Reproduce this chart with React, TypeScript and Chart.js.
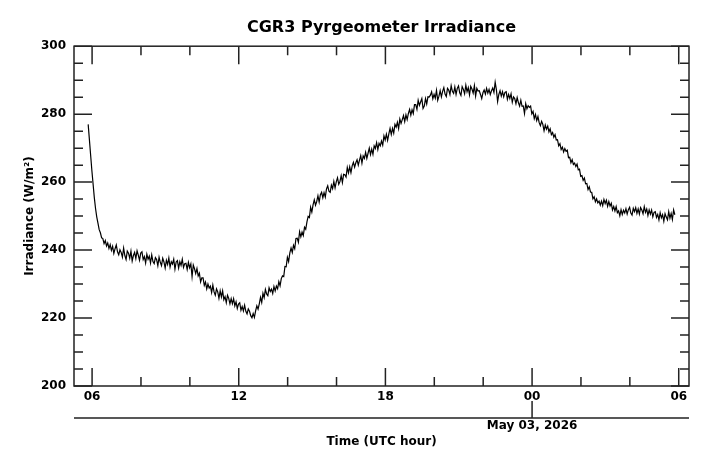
import React, { useEffect, useRef } from 'react';
import { Chart, registerables } from 'chart.js';

Chart.register(...registerables);

const chartTitle = 'CGR3 Pyrgeometer Irradiance';
const yAxisTitle = 'Irradiance (W/m²)';
const xAxisTitle = 'Time (UTC hour)';
const dateLabel = 'May 03, 2026';
const dateMarkHour = 24;

// hours counted from 00 UTC of May 02
const hourMin = 5.26;
const hourMax = 30.42;
const startHour = 5.84;
const stepHours = 0.05;

const xTickHours = [6, 12, 18, 24, 30];
const xMinorHours = [6, 8, 10, 12, 14, 16, 18, 20, 22, 24, 26, 28, 30];
const yTicks = [200, 220, 240, 260, 280, 300];
const yMinorTicks = [
  200, 205, 210, 215, 220, 225, 230, 235, 240, 245, 250,
  255, 260, 265, 270, 275, 280, 285, 290, 295, 300,
];

// W/m2, one reading every 3 minutes from startHour (one row per hour)
const irradiance = [
  277, 272.5, 268, 263.5, 259.5, 255.5, 252.3, 249.8, 247.9, 246.0, 245.1, 243.6, 243.4, 241.9, 242.8, 241.2, 242.1, 240.5, 241.6, 239.9,
  241.1, 239.0, 240.4, 241.5, 239.5, 238.6, 240.1, 239.3, 237.9, 240.6, 238.4, 237.2, 239.7, 239.1, 237.6, 239.7, 236.8, 238.4, 239.3, 237.5,
  239.8, 238.5, 237.0, 239.1, 239.5, 237.2, 238.1, 236.2, 238.8, 237.3, 238.2, 236.2, 238.6, 236.6, 236.0, 237.8, 237.2, 235.4, 237.9, 236.4,
  235.4, 237.6, 236.5, 234.7, 237.0, 235.8, 237.7, 235.0, 236.6, 235.9, 237.3, 234.4, 236.5, 236.9, 234.7, 236.6, 235.5, 237.3, 234.9, 236.0,
  236.1, 234.3, 236.4, 234.8, 235.9, 232.2, 235.6, 234.5, 233.1, 234.6, 232.4, 233.2, 230.6, 231.8, 231.8, 229.6, 230.6, 228.6, 230.0, 228.8,
  229.4, 227.5, 229.7, 227.7, 226.7, 228.6, 227.7, 225.8, 228.0, 226.2, 228.0, 225.4, 226.3, 224.5, 226.7, 225.8, 224.2, 225.7, 224.2, 225.7,
  223.6, 224.8, 222.8, 224.1, 224.5, 222.3, 223.4, 222.1, 223.8, 222.0, 221.2, 222.7, 222.0, 220.7, 220.1, 221.3, 220.2, 222.1, 223.6, 222.6,
  224.2, 226.1, 224.6, 227.3, 226.0, 228.4, 227.1, 226.6, 228.9, 227.8, 228.5, 227.2, 229.3, 228.0, 229.4, 228.6, 230.7, 229.5, 231.6, 232.4,
  232.2, 235.2, 235.1, 237.9, 236.6, 239.2, 240.6, 239.3, 241.4, 240.4, 243.4, 243.5, 242.3, 245.4, 243.9, 245.3, 244.3, 246.7, 246.1, 248.3,
  249.9, 249.6, 252.6, 251.2, 253.3, 254.8, 253.2, 254.3, 256.0, 254.1, 256.3, 257.0, 255.4, 256.9, 255.6, 258.0, 258.9, 257.3, 257.0, 259.1,
  258.1, 260.2, 258.3, 260.1, 261.3, 259.4, 260.2, 261.9, 259.9, 262.3, 262.2, 261.5, 264.3, 262.7, 264.5, 262.8, 264.8, 265.8, 264.4, 265.7,
  266.6, 265.0, 266.5, 267.8, 265.6, 267.7, 267.0, 268.8, 267.0, 268.5, 270.0, 268.1, 269.7, 268.2, 270.7, 269.9, 271.6, 269.6, 271.4, 270.7,
  272.1, 270.9, 273.6, 272.4, 274.1, 272.3, 274.2, 275.8, 274.0, 275.8, 274.4, 277.0, 276.2, 277.6, 275.8, 278.6, 277.3, 278.4, 279.6, 277.8,
  279.8, 278.4, 280.2, 281.4, 279.7, 281.3, 280.2, 282.8, 282.8, 281.4, 284.1, 282.6, 283.6, 284.6, 281.7, 282.4, 284.6, 283.0, 285.1, 285.0,
  285.6, 286.6, 284.5, 285.8, 284.7, 287.0, 284.1, 285.3, 286.9, 285.1, 286.7, 287.8, 285.9, 285.2, 287.6, 287.1, 285.8, 288.4, 286.7, 286.1,
  288.0, 285.8, 287.6, 288.3, 286.3, 285.5, 288.1, 287.3, 286.0, 288.5, 286.6, 287.8, 285.7, 288.2, 287.4, 286.2, 288.4, 285.3, 287.6, 286.8,
  286.9, 285.8, 284.6, 286.3, 287.1, 285.9, 287.6, 286.2, 287.3, 285.8, 286.9, 287.7, 286.4, 289.4, 287.2, 283.7, 285.8, 286.9, 285.3, 286.6,
  285.1, 286.4, 286.6, 284.4, 285.8, 284.6, 286.0, 283.5, 285.1, 284.6, 283.1, 284.9, 283.4, 282.4, 284.1, 282.3, 282.4, 280.2, 283.1, 281.6,
  282.5, 282.0, 282.4, 280.1, 280.8, 278.7, 279.9, 278.1, 279.3, 277.5, 276.6, 277.9, 277.0, 275.1, 276.8, 275.6, 276.5, 274.8, 275.7, 274.0,
  274.6, 273.2, 274.0, 272.4, 272.5, 270.7, 271.3, 269.6, 270.3, 268.9, 269.9, 269.1, 269.4, 267.2, 267.3, 265.7, 266.6, 265.2, 265.6, 264.6,
  265.3, 263.6, 263.8, 261.7, 261.9, 260.5, 261.2, 259.5, 259.6, 257.8, 258.6, 257.1, 257.0, 255.1, 255.7, 254.2, 255.1, 253.9, 254.4, 253.2,
  254.4, 253.1, 254.9, 253.7, 254.7, 252.9, 254.3, 253.0, 253.8, 251.8, 252.8, 251.5, 252.8, 251.0, 251.5, 250.1, 251.9, 250.5, 251.7, 250.9,
  252.2, 250.6, 251.9, 252.6, 250.9, 250.3, 252.3, 251.3, 252.5, 250.8, 252.1, 250.6, 252.5, 251.8, 250.7, 252.8, 251.1, 252.1, 250.2, 251.8,
  250.6, 251.8, 249.8, 251.1, 251.3, 249.6, 250.5, 248.9, 251.0, 249.5, 250.4, 248.5, 250.7, 249.7, 248.9, 251.3, 249.4, 250.8, 249.0, 251.8,
  250.4,
];

const fontFamily = '"DejaVu Sans", sans-serif';
const axisColor = '#222';

// box, inward ticks on all four sides and the date axis under the plot
const framePlugin = {
  id: 'frame',
  afterDraw(chart: any) {
    const { ctx, chartArea: a, scales } = chart;
    const xs = scales.x;
    const ys = scales.y;
    ctx.save();
    ctx.strokeStyle = axisColor;
    ctx.lineWidth = 1.5;
    ctx.strokeRect(a.left, a.top, a.right - a.left, a.bottom - a.top);

    ctx.beginPath();
    xMinorHours.forEach((h) => {
      const px = xs.getPixelForValue(h);
      const len = xTickHours.includes(h) ? 18 : 9;
      ctx.moveTo(px, a.bottom);
      ctx.lineTo(px, a.bottom - len);
      ctx.moveTo(px, a.top);
      ctx.lineTo(px, a.top + len);
    });
    yMinorTicks.forEach((v) => {
      const py = ys.getPixelForValue(v);
      const len = yTicks.includes(v) ? 18 : 9;
      ctx.moveTo(a.left, py);
      ctx.lineTo(a.left + len, py);
      ctx.moveTo(a.right, py);
      ctx.lineTo(a.right - len, py);
    });

    const lineY = a.bottom + 32;
    const dx = xs.getPixelForValue(dateMarkHour);
    ctx.moveTo(a.left, lineY);
    ctx.lineTo(a.right, lineY);
    ctx.moveTo(dx, lineY);
    ctx.lineTo(dx, lineY - 17);
    ctx.stroke();

    ctx.fillStyle = '#000';
    ctx.font = `bold 12px ${fontFamily}`;
    ctx.textAlign = 'center';
    ctx.textBaseline = 'middle';
    ctx.fillText(dateLabel, dx, lineY + 8);
    ctx.restore();
  },
};

const App = (): JSX.Element => {
  const canvasRef = useRef<HTMLCanvasElement>(null);

  useEffect(() => {
    const ctx = canvasRef.current.getContext('2d');
    const points = irradiance.map((v, i) => ({ x: startHour + i * stepHours, y: v }));

    const chart = new Chart(ctx, {
      type: 'line',
      data: {
        datasets: [
          {
            data: points,
            borderColor: '#000',
            borderWidth: 1.2,
            pointRadius: 0,
            tension: 0,
          },
        ],
      },
      options: {
        responsive: false,
        animation: false,
        layout: { padding: { left: 0, right: 22, top: 0, bottom: 0 } },
        plugins: {
          legend: { display: false },
          tooltip: { enabled: false },
          title: {
            display: true,
            text: chartTitle,
            fullSize: false,
            color: '#000',
            font: { family: fontFamily, size: 16, weight: 'bold' },
            padding: { top: 18, bottom: 9 },
          },
        },
        scales: {
          x: {
            type: 'linear',
            min: hourMin,
            max: hourMax,
            afterBuildTicks: (scale) => {
              scale.ticks = xTickHours.map((v) => ({ value: v }));
            },
            afterFit: (scale) => {
              scale.height = 81;
            },
            grid: { display: false, drawTicks: false },
            border: { display: false },
            ticks: {
              color: '#000',
              padding: 4,
              maxRotation: 0,
              font: { family: fontFamily, size: 12, weight: 'bold' },
              callback: (v) => String(Number(v) % 24).padStart(2, '0'),
            },
            title: {
              display: true,
              text: xAxisTitle,
              color: '#000',
              font: { family: fontFamily, size: 12, weight: 'bold' },
              padding: { top: 18, bottom: 18 },
            },
          },
          y: {
            min: 200,
            max: 300,
            afterBuildTicks: (scale) => {
              scale.ticks = yTicks.map((v) => ({ value: v }));
            },
            afterFit: (scale) => {
              scale.width = 74;
            },
            grid: { display: false, drawTicks: false },
            border: { display: false },
            ticks: {
              color: '#000',
              padding: 8,
              font: { family: fontFamily, size: 12, weight: 'bold' },
            },
            title: {
              display: true,
              text: yAxisTitle,
              color: '#000',
              font: { family: fontFamily, size: 12, weight: 'bold' },
              padding: { top: 23, bottom: 0 },
            },
          },
        },
      },
      plugins: [framePlugin],
    });
    return () => {
      chart.destroy();
    };
  }, []);

  return (
    <div style={{ position: 'fixed', left: 0, top: 0, width: 711, height: 467, background: '#fff' }}>
      <canvas ref={canvasRef} width={711} height={467} />
    </div>
  );
};

export default App;
